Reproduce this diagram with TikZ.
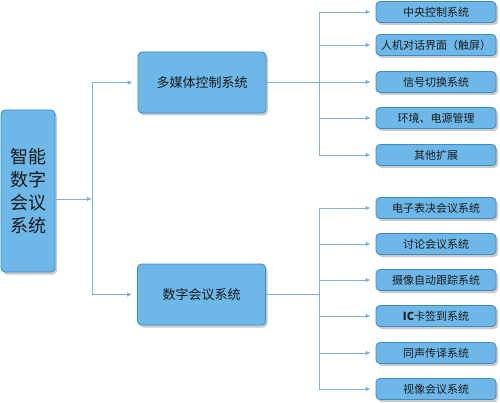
\documentclass[tikz,border=0pt]{standalone}
\usepackage{fontspec}
\setmainfont{Noto Sans CJK SC}
\usetikzlibrary{shadows,arrows.meta}
\definecolor{boxfill}{HTML}{6DB8E8}
\definecolor{boxline}{HTML}{3C8CC4}
\definecolor{linecol}{HTML}{7FB2D6}
\definecolor{txt}{HTML}{1A1A1A}
\tikzset{
  x=1pt, y=-1pt,
  sysbox/.style={draw=boxline, line width=0.8pt, fill=boxfill, rounded corners=4pt, text=txt,
    drop shadow={shadow xshift=2pt, shadow yshift=-2.5pt, fill=black!35, opacity=0.6}, inner sep=0pt, align=center},
  leftbox/.style={sysbox, minimum width=54pt, minimum height=162pt, font=\fontsize{18}{23}\selectfont},
  midbox/.style={sysbox, minimum width=128pt, minimum height=61pt, font=\fontsize{13}{15}\selectfont},
  subbox/.style={sysbox, minimum width=120pt, minimum height=21pt, font=\fontsize{11}{13}\selectfont},
  conn/.style={draw=linecol, line width=0.8pt},
  arr/.style={conn, -{Latex[length=5pt,width=4.5pt]}, shorten >=5pt},
}
\begin{document}
\begin{tikzpicture}
\useasboundingbox (0,0) rectangle (500,403);
\node[leftbox] (root) at (28,191) {智能\\数字\\会议\\系统};
\node[midbox] (m1) at (202,82.5) {多媒体控制系统};
\node[midbox] (m2) at (201.5,294.5) {数字会议系统};
\node[subbox] (a1) at (436,12) {中央控制系统};
\node[subbox] (a2) at (436,45) {人机对话界面（触屏）};
\node[subbox] (a3) at (436,82) {信号切换系统};
\node[subbox] (a4) at (436,118) {环境、电源管理};
\node[subbox] (a5) at (436,155) {其他扩展};
\node[subbox] (b1) at (436,208) {电子表决会议系统};
\node[subbox] (b2) at (436,244) {讨论会议系统};
\node[subbox] (b3) at (436,280) {摄像自动跟踪系统};
\node[subbox] (b4) at (436,316) {\textbf{IC}卡签到系统};
\node[subbox] (b5) at (436,353) {同声传译系统};
\node[subbox] (b6) at (436,389) {视像会议系统};
% trunk
\coordinate (t0) at (92,199);
\coordinate (t1) at (92,82.5);
\coordinate (t2) at (92,294.5);
\draw[arr, shorten >=0pt] (root.east |- t0) -- (t0);
\draw[conn] (t1) -- (t2);
\draw[arr] (t1) -- (m1.west);
\draw[arr] (t2) -- (m2.west);
% top branch
\coordinate (u) at (319,82.5);
\coordinate (ut) at (319,12);
\coordinate (ub) at (319,155);
\draw[conn] (m1.east) -- (u);
\draw[conn] (ut) -- (ub);
\foreach \n in {a1,a2,a3,a4,a5} \draw[arr] (\n.west -| u) -- (\n.west);
% bottom branch
\coordinate (v) at (319,294.5);
\coordinate (vt) at (319,208);
\coordinate (vb) at (319,389);
\draw[conn] (m2.east) -- (v);
\draw[conn] (vt) -- (vb);
\foreach \n in {b1,b2,b3,b4,b5,b6} \draw[arr] (\n.west -| v) -- (\n.west);
\end{tikzpicture}
\end{document}
